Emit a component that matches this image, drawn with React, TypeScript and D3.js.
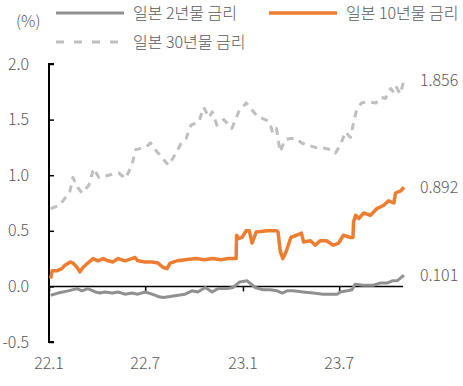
import * as d3 from 'd3'
import { useEffect, useRef } from 'react'

// 일본 국채 금리 (%)
const dates30y = [
  '2022-01-04', '2022-01-21', '2022-02-09', '2022-02-15', '2022-02-24', '2022-03-04',
  '2022-03-17', '2022-03-26', '2022-04-05', '2022-04-23', '2022-05-12', '2022-05-25',
  '2022-06-06', '2022-06-13', '2022-07-02', '2022-07-11', '2022-07-20', '2022-08-01',
  '2022-08-14', '2022-08-28', '2022-09-07', '2022-09-16', '2022-09-25', '2022-10-10',
  '2022-10-19', '2022-10-29', '2022-11-04', '2022-11-13', '2022-11-26', '2022-12-11',
  '2022-12-24', '2023-01-07', '2023-01-16', '2023-01-26', '2023-02-07', '2023-02-20',
  '2023-02-26', '2023-03-05', '2023-03-12', '2023-03-21', '2023-04-01', '2023-04-12',
  '2023-04-21', '2023-05-04', '2023-05-17', '2023-05-28', '2023-06-15', '2023-06-24',
  '2023-07-03', '2023-07-13', '2023-07-22', '2023-07-28', '2023-08-03', '2023-08-12',
  '2023-08-25', '2023-09-08', '2023-09-17', '2023-09-26', '2023-10-06', '2023-10-12',
  '2023-10-17', '2023-10-24', '2023-10-31',
]
const values30y = [
  0.7, 0.73, 0.85, 0.98, 0.89, 0.84,
  0.91, 1.06, 0.98, 1.0, 1.02, 0.97,
  1.09, 1.23, 1.25, 1.29, 1.23, 1.16,
  1.09, 1.2, 1.29, 1.33, 1.45, 1.48,
  1.61, 1.52, 1.57, 1.45, 1.5, 1.42,
  1.57, 1.65, 1.6, 1.54, 1.51, 1.48,
  1.38, 1.42, 1.21, 1.32, 1.33, 1.33,
  1.29, 1.27, 1.25, 1.25, 1.23, 1.2,
  1.27, 1.39, 1.34, 1.47, 1.59, 1.65,
  1.66, 1.65, 1.7, 1.69, 1.78, 1.74,
  1.79, 1.73, 1.856,
]

const dates10y = [
  '2022-01-04', '2022-01-07', '2022-01-16', '2022-01-25', '2022-01-31', '2022-02-10',
  '2022-02-15', '2022-02-23', '2022-02-28', '2022-03-06', '2022-03-15', '2022-03-25',
  '2022-04-03', '2022-04-13', '2022-04-22', '2022-05-01', '2022-05-11', '2022-05-24',
  '2022-06-06', '2022-06-12', '2022-06-17', '2022-07-01', '2022-07-14', '2022-07-25',
  '2022-08-04', '2022-08-11', '2022-08-17', '2022-08-30', '2022-09-14', '2022-10-05',
  '2022-10-20', '2022-11-05', '2022-11-20', '2022-12-05', '2022-12-19', '2022-12-20',
  '2022-12-24', '2022-12-30', '2023-01-07', '2023-01-13', '2023-01-18', '2023-01-26',
  '2023-02-16', '2023-03-05', '2023-03-08', '2023-03-12', '2023-03-17', '2023-03-23',
  '2023-04-01', '2023-04-12', '2023-04-21', '2023-04-25', '2023-05-08', '2023-05-17',
  '2023-05-26', '2023-06-07', '2023-06-20', '2023-06-30', '2023-07-09', '2023-07-22',
  '2023-07-27', '2023-07-28', '2023-08-01', '2023-08-07', '2023-08-16', '2023-08-29',
  '2023-09-10', '2023-09-23', '2023-10-02', '2023-10-12', '2023-10-15', '2023-10-25',
  '2023-10-31',
]
const values10y = [
  0.07, 0.14, 0.14, 0.16, 0.19, 0.22,
  0.21, 0.17, 0.13, 0.17, 0.21, 0.25,
  0.23, 0.25, 0.23, 0.22, 0.25, 0.23,
  0.25, 0.26, 0.23, 0.22, 0.22, 0.21,
  0.17, 0.16, 0.21, 0.23, 0.24, 0.25,
  0.24, 0.25, 0.24, 0.25, 0.25, 0.46,
  0.43, 0.44, 0.5, 0.5, 0.39, 0.49,
  0.5, 0.5, 0.49, 0.32, 0.25, 0.31,
  0.44, 0.46, 0.48, 0.4, 0.41, 0.37,
  0.41, 0.41, 0.37, 0.39, 0.46, 0.44,
  0.44, 0.58, 0.64, 0.61, 0.66, 0.64,
  0.7, 0.73, 0.77, 0.75, 0.84, 0.86,
  0.892,
]

const dates2y = [
  '2022-01-04', '2022-01-18', '2022-02-06', '2022-02-23', '2022-03-04', '2022-03-15',
  '2022-03-29', '2022-04-07', '2022-04-16', '2022-04-30', '2022-05-11', '2022-05-24',
  '2022-06-06', '2022-06-17', '2022-07-01', '2022-07-14', '2022-07-25', '2022-08-04',
  '2022-08-17', '2022-09-01', '2022-09-14', '2022-09-27', '2022-10-08', '2022-10-22',
  '2022-11-04', '2022-11-15', '2022-12-02', '2022-12-13', '2022-12-23', '2022-12-26',
  '2023-01-09', '2023-01-14', '2023-01-24', '2023-02-08', '2023-02-21', '2023-03-06',
  '2023-03-16', '2023-03-25', '2023-04-05', '2023-04-24', '2023-05-13', '2023-06-01',
  '2023-06-18', '2023-06-27', '2023-07-03', '2023-07-16', '2023-07-25', '2023-07-31',
  '2023-08-15', '2023-09-03', '2023-09-16', '2023-09-29', '2023-10-09', '2023-10-18',
  '2023-10-31',
]
const values2y = [
  -0.08, -0.06, -0.04, -0.02, -0.04, -0.02,
  -0.05, -0.06, -0.05, -0.06, -0.05, -0.07,
  -0.06, -0.07, -0.05, -0.07, -0.09, -0.1,
  -0.09, -0.08, -0.07, -0.04, -0.05, -0.01,
  -0.05, -0.02, -0.02, -0.01, 0.03, 0.04,
  0.05, 0.03, -0.01, -0.03, -0.03, -0.04,
  -0.06, -0.04, -0.04, -0.05, -0.06, -0.07,
  -0.07, -0.07, -0.05, -0.04, -0.03, 0.02,
  0.01, 0.01, 0.03, 0.03, 0.05, 0.05,
  0.101,
]

const yTicks = [-0.5, 0, 0.5, 1.0, 1.5, 2.0]
const yTickLabels = ['-0.5', '0.0', '0.5', '1.0', '1.5', '2.0']
const xTickDates = ['2022-01-01', '2022-07-01', '2023-01-01', '2023-07-01']
const xTickLabels = ['22.1', '22.7', '23.1', '23.7']
const endLabels = ['1.856', '0.892', '0.101']

const FONT = "'Noto Sans CJK KR', 'Noto Sans', sans-serif"
const TEXT_COLOR = '#595959'
const FONT_SIZE = 16

const App = () => {
  const ref = useRef(null)

  useEffect(() => {
    const parse = d3.timeParse('%Y-%m-%d')
    const svg = d3.select(ref.current)
    svg.selectAll('*').remove()

    const x = d3
      .scaleTime()
      .domain([parse('2022-01-01'), parse('2023-10-31')])
      .range([49, 404])
    const y = d3.scaleLinear().domain([-0.5, 2.0]).range([342, 64])

    const series = [
      { dates: dates30y, values: values30y, color: '#bfbfbf', width: 3, dash: '7,6' },
      { dates: dates10y, values: values10y, color: '#ed7d31', width: 3.5, dash: null },
      { dates: dates2y, values: values2y, color: '#909090', width: 3, dash: null },
    ]

    const line = d3
      .line()
      .x((d) => x(d[0]))
      .y((d) => y(d[1]))

    const addText = (sel) =>
      sel
        .attr('font-family', FONT)
        .attr('font-size', FONT_SIZE)
        .attr('font-weight', 300)
        .attr('fill', TEXT_COLOR)

    // y axis
    const yAxis = svg
      .append('g')
      .attr('transform', 'translate(49,0)')
      .call(d3.axisRight(y).tickValues(yTicks).tickSize(5).tickFormat(''))
    yAxis
      .select('.domain')
      .attr('stroke', '#000')
      .attr('stroke-width', 2)
      .attr('d', `M5,${y(2.0)}H0V${y(-0.5)}H5`)
    yAxis.selectAll('.tick line').attr('stroke', '#000').attr('stroke-width', 1.5)

    svg
      .selectAll('.ylab')
      .data(yTicks)
      .enter()
      .append('text')
      .attr('x', 29)
      .attr('y', (d) => y(d))
      .attr('dy', '0.35em')
      .attr('text-anchor', 'end')
      .call(addText)
      .text((d, i) => yTickLabels[i])

    // x axis at zero
    const lastDate = parse('2023-10-31')
    const xAxis = svg
      .append('g')
      .attr('transform', `translate(0,${y(0)})`)
      .call(
        d3
          .axisBottom(x)
          .tickValues(xTickDates.map((d) => parse(d)))
          .tickSize(5)
          .tickFormat('')
      )
    xAxis
      .select('.domain')
      .attr('stroke', '#000')
      .attr('stroke-width', 1.5)
      .attr('d', `M${x(parse('2022-01-01'))},0H${x(lastDate) - 1}`)
    xAxis.selectAll('.tick line').attr('stroke', '#000').attr('stroke-width', 1.5)

    svg
      .selectAll('.xlab')
      .data(xTickDates)
      .enter()
      .append('text')
      .attr('x', (d) => x(parse(d)))
      .attr('y', 369)
      .attr('text-anchor', 'middle')
      .call(addText)
      .text((d, i) => xTickLabels[i])

    // lines
    series.forEach((s) => {
      const pts = s.dates.map((d, i) => [parse(d), s.values[i]])
      svg
        .append('path')
        .datum(pts)
        .attr('d', line)
        .attr('fill', 'none')
        .attr('stroke', s.color)
        .attr('stroke-width', s.width)
        .attr('stroke-linejoin', 'round')
        .attr('stroke-dasharray', s.dash)
    })

    // end value labels
    const lastValues = [values30y, values10y, values2y].map((v) => v[v.length - 1])
    svg
      .selectAll('.endlab')
      .data(endLabels)
      .enter()
      .append('text')
      .attr('x', 420)
      .attr('y', (d, i) => y(lastValues[i]))
      .attr('dy', '0.35em')
      .call(addText)
      .text((d) => d)

    // legend
    const legend = [
      { label: '일본 2년물 금리', color: '#909090', width: 3, dash: null, x: 56, y: 13 },
      { label: '일본 10년물 금리', color: '#ed7d31', width: 3.5, dash: null, x: 269, y: 13 },
      { label: '일본 30년물 금리', color: '#bfbfbf', width: 3, dash: '8,10', x: 56, y: 42 },
    ]
    const lg = svg.append('g')
    legend.forEach((l) => {
      lg.append('line')
        .attr('x1', l.x)
        .attr('x2', l.x + 68)
        .attr('y1', l.y)
        .attr('y2', l.y)
        .attr('stroke', l.color)
        .attr('stroke-width', l.width)
        .attr('stroke-dasharray', l.dash)
      lg.append('text')
        .attr('x', l.x + 77)
        .attr('y', l.y)
        .attr('dy', '0.35em')
        .call(addText)
        .text(l.label)
    })
    lg.append('text')
      .attr('x', 16)
      .attr('y', 21)
      .attr('dy', '0.35em')
      .call(addText)
      .text('(%)')
  }, [])

  return (
    <svg
      ref={ref}
      width={463}
      height={386}
      style={{ position: 'absolute', left: 0, top: 0, background: '#fff' }}
    ></svg>
  )
}

export default App
